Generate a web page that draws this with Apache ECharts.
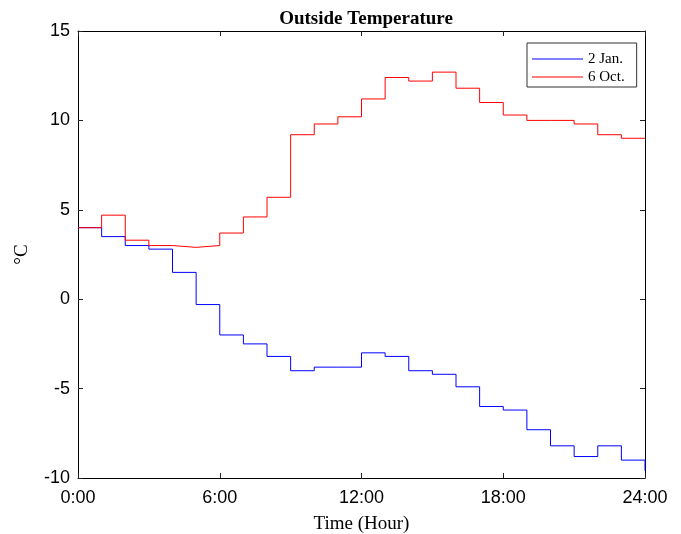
<!DOCTYPE html>
<html>
<head>
<meta charset="utf-8">
<script src="https://cdn.jsdelivr.net/npm/echarts@6/dist/echarts.min.js"></script>
<style>html,body{margin:0;padding:0;background:#fff}#c{width:681px;height:534px}</style>
</head>
<body>
<div id="c"></div>
<script>
var hours = [0,1,2,3,4,5,6,7,8,9,10,11,12,13,14,15,16,17,18,19,20,21,22,23,24];
var jan2 = [4.0,3.5,3.0,2.8,1.5,-0.3,-2.0,-2.5,-3.2,-4.0,-3.8,-3.8,-3.0,-3.2,-4.0,-4.2,-4.9,-6.0,-6.2,-7.3,-8.2,-8.8,-8.2,-9.0,-9.6];
var oct6 = [4.0,4.7,3.3,3.0,2.9,3.0,3.7,4.6,5.7,9.2,9.8,10.2,11.2,12.4,12.2,12.7,11.8,11.0,10.3,10.0,10.0,9.8,9.2,9.0,9.0];
var seriesNames = ['2 Jan.', '6 Oct.'];

function pairs(xs, ys){ return xs.map(function(x,i){ return [x, ys[i]]; }); }

var chart = echarts.init(document.getElementById('c'), null, {renderer:'canvas'});
var axisLine = {show:true, onZero:false, lineStyle:{color:'#000', width:1}};
var tick = {show:true, inside:true, length:5, lineStyle:{color:'#222'}};
chart.setOption({
  animation:false,
  backgroundColor:'#fff',
  title:{text:'Outside Temperature', left:361, top:5, textAlign:'center',
    textStyle:{fontFamily:'Liberation Serif', fontWeight:'bold', fontSize:19, color:'#000'}},
  grid:{left:78, right:36, top:31, bottom:56, containLabel:false, outerBoundsMode:'none'},
  legend:{orient:'vertical', left:527, top:43, itemGap:2, padding:[8,12,2,5],
    itemWidth:51, itemHeight:1, borderColor:'#333', borderWidth:1, backgroundColor:'#fff',
    icon:'rect',
    textStyle:{fontFamily:'Liberation Serif', fontSize:15, lineHeight:16, color:'#000'},
    data:seriesNames},
  xAxis:[{type:'value', min:0, max:24, interval:6, position:'bottom',
    axisLine:axisLine, axisTick:tick, splitLine:{show:false},
    axisLabel:{fontFamily:'Liberation Sans', fontSize:18, color:'#000', margin:11,
      formatter:function(v){return v+':00';}},
    name:'Time (Hour)', nameLocation:'middle', nameGap:37,
    nameTextStyle:{fontFamily:'Liberation Serif', fontSize:19, color:'#000'}},
   {type:'value', min:0, max:24, interval:6, position:'top',
    axisLine:axisLine, axisTick:tick, axisLabel:{show:false}, splitLine:{show:false}}],
  yAxis:[{type:'value', min:-10, max:15, interval:5, position:'left',
    axisLine:axisLine, axisTick:tick, splitLine:{show:false},
    axisLabel:{fontFamily:'Liberation Sans', fontSize:18, color:'#000', margin:8},
    name:'°C', nameLocation:'middle', nameGap:46, nameRotate:90,
    nameTextStyle:{fontFamily:'Liberation Serif', fontSize:19, color:'#000'}},
   {type:'value', min:-10, max:15, interval:5, position:'right',
    axisLine:axisLine, axisTick:tick, axisLabel:{show:false}, splitLine:{show:false}}],
  series:[
    {name:seriesNames[0], type:'line', step:'end', data:pairs(hours, jan2), showSymbol:false,
      color:'#0000ff', lineStyle:{width:1, color:'#0000ff'}},
    {name:seriesNames[1], type:'line', step:'end', data:pairs(hours, oct6), showSymbol:false,
      color:'#ff0000', lineStyle:{width:1, color:'#ff0000'}}
  ]
});
</script>
</body>
</html>
